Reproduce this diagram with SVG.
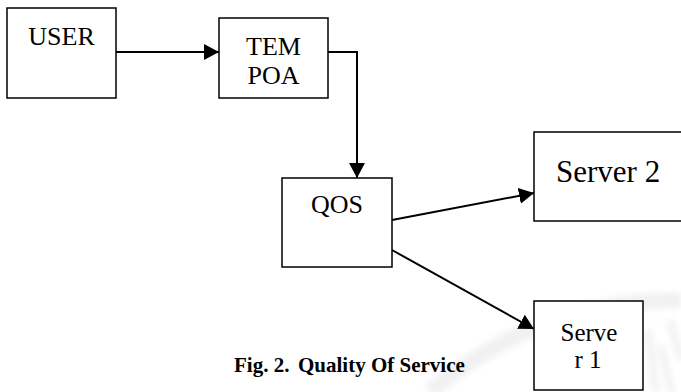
<svg xmlns="http://www.w3.org/2000/svg" width="681" height="392" viewBox="0 0 681 392">
  <style>
    .box { fill: #ffffff; stroke: #000000; stroke-width: 1.5; }
    .lbl { font-family: "Liberation Serif", "Times New Roman", serif; font-size: 26px; fill: #000000; text-anchor: middle; }
    .edge { fill: none; stroke: #000000; stroke-width: 2; }
    .cap { font-family: "Liberation Serif", "Times New Roman", serif; font-size: 21px; font-weight: bold; fill: #000000; }
    .wm { fill: none; stroke: #f1f1f1; }
  </style>
  <defs>
    <marker id="arrow" viewBox="0 0 15 16" refX="15" refY="8" markerWidth="15" markerHeight="16" markerUnits="userSpaceOnUse" orient="auto">
      <path d="M0,0 L15,8 L0,16 Z" fill="#000000"/>
    </marker>
    <filter id="soft" x="-10%" y="-10%" width="120%" height="120%">
      <feGaussianBlur stdDeviation="3"/>
    </filter>
  </defs>

  <rect width="681" height="392" fill="#ffffff"/>

  <!-- faint background emblem, lower right -->
  <g id="watermark" filter="url(#soft)">
    <path class="wm" stroke-width="16" d="M430,392 Q540,300 681,300"/>
    <path class="wm" stroke-width="7" d="M660,345 L672,392 M648,330 L656,392 M670,320 L681,360"/>
  </g>

  <!-- connectors -->
  <g id="connectors">
    <line class="edge" x1="116" y1="52" x2="219" y2="52" marker-end="url(#arrow)"/>
    <polyline class="edge" points="328,52 357,52 357,178" marker-end="url(#arrow)"/>
    <line class="edge" x1="392" y1="220" x2="534" y2="193" marker-end="url(#arrow)"/>
    <line class="edge" x1="392" y1="250" x2="534" y2="329" marker-end="url(#arrow)"/>
  </g>

  <!-- nodes -->
  <g id="user">
    <rect class="box" x="7" y="8" width="109" height="90"/>
    <text class="lbl" font-family="Liberation Serif, serif" x="61.5" y="45">USER</text>
  </g>
  <g id="tempoa">
    <rect class="box" x="219" y="18" width="109" height="80"/>
    <text class="lbl" font-family="Liberation Serif, serif" x="273.5" y="55">TEM</text>
    <text class="lbl" font-family="Liberation Serif, serif" x="273.5" y="84">POA</text>
  </g>
  <g id="qos">
    <rect class="box" x="282" y="178" width="110" height="89"/>
    <text class="lbl" font-family="Liberation Serif, serif" x="337" y="213">QOS</text>
  </g>
  <g id="server2">
    <rect class="box" x="534" y="132" width="150" height="89"/>
    <text class="lbl" font-family="Liberation Serif, serif" x="556" y="182" style="font-size:31px;text-anchor:start">Server 2</text>
  </g>
  <g id="server1">
    <rect class="box" x="534" y="301" width="109" height="89"/>
    <text class="lbl" font-family="Liberation Serif, serif" x="589" y="341" style="font-size:25px">Serve</text>
    <text class="lbl" font-family="Liberation Serif, serif" x="588" y="368" style="font-size:25px">r 1</text>
  </g>

  <!-- caption -->
  <text class="cap" x="234" y="372">Fig. 2.<tspan x="298">Quality Of Service</tspan></text>
</svg>
